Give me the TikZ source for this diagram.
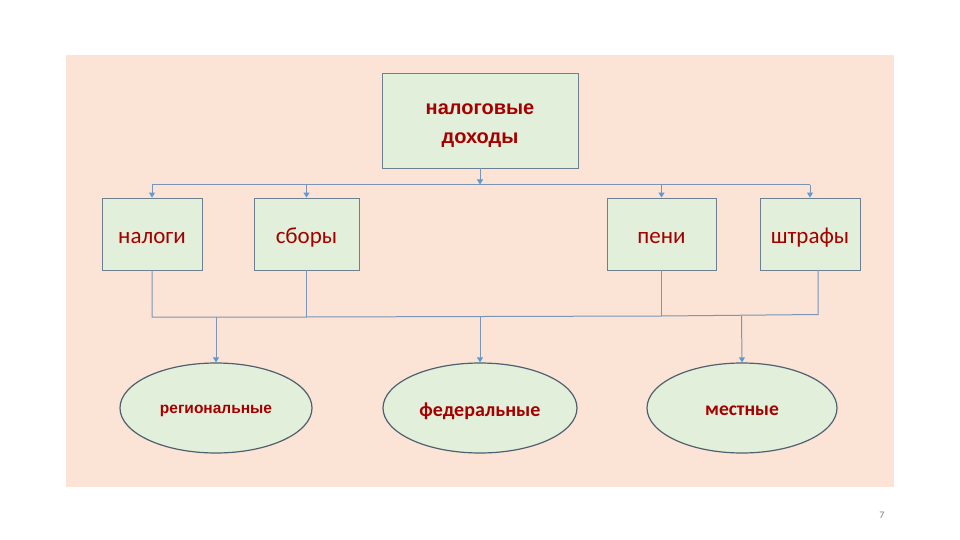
\documentclass[tikz,border=0pt]{standalone}
\usepackage{fontspec}
\setmainfont{Carlito}
\newfontfamily\arialfont{Liberation Sans}
\usetikzlibrary{shapes.geometric,arrows.meta}
\definecolor{panel}{HTML}{FBE4D6}
\definecolor{boxfill}{HTML}{E2EFDA}
\definecolor{boxline}{HTML}{6E7F8F}
\definecolor{ovline}{HTML}{4F6070}
\definecolor{conn}{HTML}{7A95B5}
\definecolor{tip}{HTML}{5B9BD5}
\definecolor{txt}{HTML}{A50000}
\tikzset{
  box/.style={draw=boxline, line width=0.9pt, fill=boxfill, inner sep=0pt},
  oval/.style={ellipse, draw=ovline, line width=1.2pt, fill=boxfill, inner sep=0pt,
               minimum width=192pt, minimum height=90pt},
  boxtext/.style={text=txt, font=\fontsize{23}{26}\selectfont, yshift=-4pt},
  ovtext/.style={text=txt, yshift=-3pt},
  link/.style={draw=conn, line width=1pt},
  arr/.style={link, -{Triangle[width=6pt,length=5pt,fill=tip,color=tip]}}
}
\begin{document}
\begin{tikzpicture}[x=1pt,y=-1pt]
\useasboundingbox (0,0) rectangle (960,540);
\fill[white] (0,0) rectangle (960,540);
\fill[panel] (66,55) rectangle (894,487);

% top box
\node[box, minimum width=196pt, minimum height=95pt,
  label={[text=txt, align=center, yshift=-5pt, font=\arialfont\bfseries\fontsize{20}{29}\selectfont]center:налоговые\\доходы}]
  (root) at (480,120.5) {};

% second row
\node[box, minimum width=100pt, minimum height=72pt, label={[boxtext]center:налоги}] (nalogi) at (152,234) {};
\node[box, minimum width=105pt, minimum height=72pt, label={[boxtext]center:сборы}] (sbory) at (306.5,234) {};
\node[box, minimum width=109pt, minimum height=72pt, label={[boxtext]center:пени}] (peni) at (661.5,234) {};
\node[box, minimum width=100pt, minimum height=72pt, label={[boxtext]center:штрафы}] (shtrafy) at (810,234) {};

% ellipses
\node[oval, label={[ovtext, font=\arialfont\bfseries\fontsize{15.5}{18}\selectfont]center:региональные}] (reg) at (216,408) {};
\node[oval, minimum width=194pt, label={[ovtext, font=\bfseries\fontsize{20}{22}\selectfont]center:федеральные}] (fed) at (480,408) {};
\node[oval, minimum width=190pt, label={[ovtext, font=\bfseries\fontsize{19.5}{22}\selectfont]center:местные}] (mest) at (742,408) {};

% top bus
\coordinate (tb) at (480,184.5);
\coordinate (tbL) at (152,184.5);
\coordinate (tbS) at (306.5,184.5);
\coordinate (tbP) at (661.5,184.5);
\coordinate (tbR) at (810,184.5);
\draw[arr] (root.south) -- (tb);
\draw[link] (tbL) -- (tbR);
\draw[arr] (tbL) -- (nalogi.north);
\draw[arr] (tbS) -- (sbory.north);
\draw[arr] (tbP) -- (peni.north);
\draw[arr] (tbR) -- (shtrafy.north);

% bottom bus
\coordinate (bL) at (152,317);
\coordinate (bS) at (306.5,317);
\coordinate (bP) at (661.5,316);
\coordinate (bR) at (818,314.5);
\coordinate (sR) at (818,270);
\coordinate (bReg) at (216,317);
\coordinate (bFed) at (480,316.5);
\coordinate (bMest) at (741.5,315.5);
\draw[link] (nalogi.south) -- (bL) -- (bS) -- (bP) -- (bR) -- (sR);
\draw[link] (sbory.south) -- (bS);
\draw[link] (peni.south) -- (bP);
\draw[arr] (bReg) -- (reg.north);
\draw[arr] (bFed) -- (fed.north);
\draw[arr] (bMest) -- (mest.north);

% page number
\node[text=gray, font=\fontsize{10}{12}\selectfont] (pg) at (882,515) {7};
\end{tikzpicture}
\end{document}
